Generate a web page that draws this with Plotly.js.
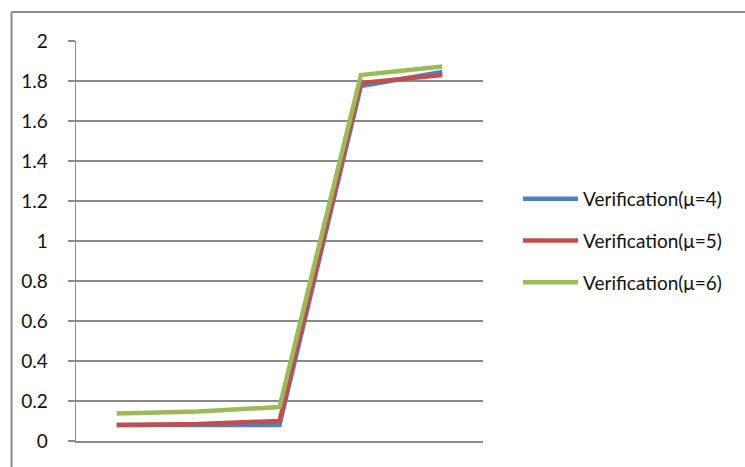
<!DOCTYPE html>
<html>
<head>
<meta charset="utf-8">
<script src="https://cdn.plot.ly/plotly-3.0.1.min.js"></script>
<style>
  html, body { margin: 0; padding: 0; background: #ffffff; }
  #chart { width: 745px; height: 467px; }
</style>
</head>
<body>
<div id="chart"></div>
<script>
// Five unlabeled sample points along the x axis
const categories = ['1', '2', '3', '4', '5'];

// Verification results for each μ setting
const seriesNames = ['Verification(μ=4)', 'Verification(μ=5)', 'Verification(μ=6)'];
const mu4 = [0.08, 0.08, 0.08, 1.775, 1.845];
const mu5 = [0.08, 0.085, 0.10, 1.79, 1.83];
const mu6 = [0.138, 0.147, 0.17, 1.83, 1.873];

const yTicks = [0, 0.2, 0.4, 0.6, 0.8, 1, 1.2, 1.4, 1.6, 1.8, 2];
const yTickText = ['0', '0.2', '0.4', '0.6', '0.8', '1', '1.2', '1.4', '1.6', '1.8', '2'];

const colors = ['#4F81BD', '#C0504D', '#9BBB59'];
const allSeries = [mu4, mu5, mu6];

const traces = allSeries.map((vals, i) => ({
  type: 'scatter',
  mode: 'lines',
  x: categories,
  y: vals,
  name: seriesNames[i],
  legendgroup: 'g' + i,
  line: { color: colors[i], width: 4.5 },
  hoverinfo: 'skip'
}));

const grey = '#8a8a8a';
const font = { family: 'Lato, "Open Sans", sans-serif', size: 19, color: '#111111' };

const layout = {
  width: 745,
  height: 467,
  margin: { l: 76, r: 262, t: 41, b: 26, pad: 0 },
  paper_bgcolor: '#ffffff',
  plot_bgcolor: '#ffffff',
  font: font,
  showlegend: true,
  legend: {
    x: 1.086, xanchor: 'left',
    y: 0.5, yanchor: 'middle',
    traceorder: 'grouped',
    tracegroupgap: 14,
    itemwidth: 55,
    font: font,
    bgcolor: 'rgba(0,0,0,0)'
  },
  xaxis: {
    type: 'category',
    categoryorder: 'array',
    categoryarray: categories,
    range: [-0.5, 4.5],
    showticklabels: false,
    ticks: '',
    showgrid: false,
    zeroline: false,
    showline: true,
    linecolor: grey,
    linewidth: 1.5,
    fixedrange: true
  },
  yaxis: {
    range: [0, 2],
    tickvals: yTicks,
    ticktext: yTickText,
    ticks: 'outside',
    ticklen: 7,
    tickwidth: 1.5,
    tickcolor: grey,
    ticklabelstandoff: 16,
    showgrid: true,
    gridcolor: grey,
    gridwidth: 1.5,
    zeroline: false,
    showline: true,
    linecolor: grey,
    linewidth: 1.5,
    tickfont: font,
    fixedrange: true
  },
  shapes: [
    // outer chart frame (left and top edges)
    { type: 'line', xref: 'paper', yref: 'paper', x0: -0.1585, x1: -0.1585, y0: 1.0725, y1: -0.2,
      line: { color: grey, width: 2 } },
    { type: 'line', xref: 'paper', yref: 'paper', x0: -0.1585, x1: 1.7, y0: 1.0725, y1: 1.0725,
      line: { color: grey, width: 2 } }
  ]
};

Plotly.newPlot('chart', traces, layout, { staticPlot: true, displayModeBar: false });
</script>
</body>
</html>
